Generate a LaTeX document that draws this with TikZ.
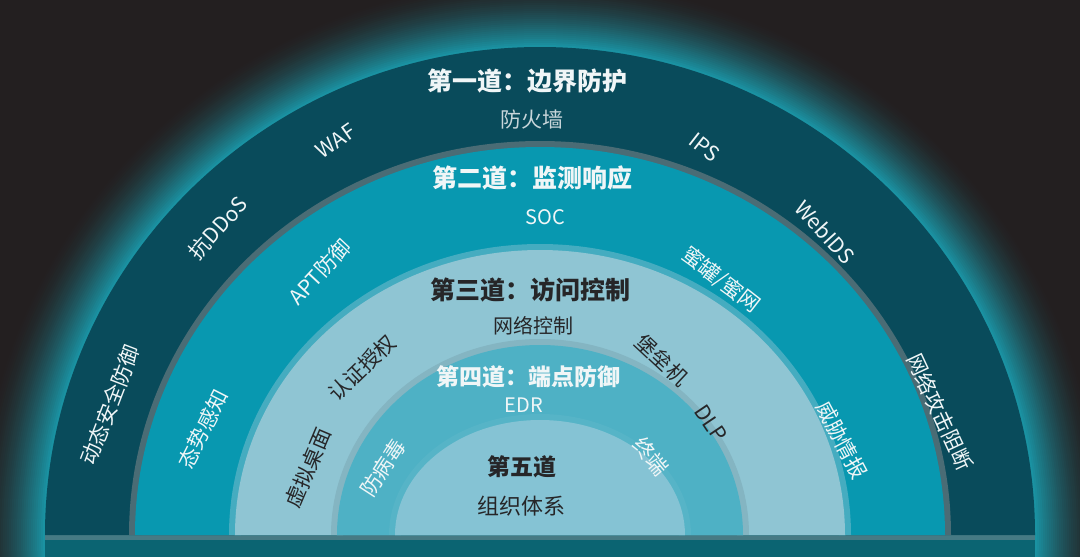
\documentclass[tikz,border=0pt]{standalone}
\usepackage{fontspec}
\setmainfont{Noto Sans CJK SC}
\usepackage{xcolor}
\usepackage{tikz}
\usetikzlibrary{positioning}
\definecolor{bgdark}{RGB}{35,31,32}
\definecolor{glowteal}{RGB}{26,146,162}
\definecolor{ringone}{RGB}{9,75,91}
\definecolor{ringtwo}{RGB}{8,152,176}
\definecolor{ringthree}{RGB}{143,197,211}
\definecolor{ringfour}{RGB}{78,177,197}
\definecolor{ringfive}{RGB}{133,195,212}
\definecolor{basestrip}{RGB}{11,100,114}
\definecolor{rimgray}{RGB}{74,108,117}
\definecolor{inkdark}{RGB}{38,38,40}
\definecolor{inklight}{RGB}{240,246,247}
\definecolor{inkgray}{RGB}{200,214,218}
\tikzset{
 rimshade/.style={draw=#1, line width=12pt},
 headline/.style={font=\fontsize{#1}{#1}\selectfont\bfseries, inner sep=0pt},
 subline/.style={font=\fontsize{#1}{#1}\selectfont, inner sep=0pt},
 arclabel/.style={font=\fontsize{21}{21}\selectfont, inner sep=0pt},
}

\begin{document}
\begin{tikzpicture}[x=1pt, y=-1pt]
\useasboundingbox (0,0) rectangle (1080,557);
\clip (0,0) rectangle (1080,557);
\fill[bgdark] (0,0) rectangle (1080,557);
% outer glow round the first ring
\foreach \k in {0,...,34}{
 \pgfmathtruncatemacro\mixpct{100*(\k/34)^1.6}
 \pgfmathsetmacro\rx{495+70-2*\k}
 \pgfmathsetmacro\ry{488+70-2*\k}
 \fill[glowteal!\mixpct!bgdark] (540,535) ellipse [x radius=\rx pt, y radius=\ry pt];
}
% base strip under the rings
\fill[basestrip] (45,535) rectangle (1035,557);
\fill[rimgray!80!white, opacity=.6] (45,535) rectangle (1035,540);
% five rings, outer to inner, each with a soft rim on the ring above
\foreach \rx/\ry/\col/\rim [count=\i] in {%
 495/488/ringone/ringone, 405/388/ringtwo/rimgray,
 305/285/ringthree/ringtwo!55!ringthree,
 203/190/ringfour/ringthree!92!black,
 145/115/ringfive/ringfour!85!ringfive%
}{
 \ifnum\i>1
  \draw[rimshade=\rim] (540-\rx,535) arc[start angle=180, end angle=0, x radius=\rx pt, y radius=\ry pt];
 \fi
 \fill[\col] (540-\rx,535) arc[start angle=180, end angle=0, x radius=\rx pt, y radius=\ry pt] -- cycle;
}
% ring titles and their subtitles
\node[headline=25, text=inklight] (title1) at (527,81) {第一道：边界防护};
\node[subline=21, text=inkgray] (sub1) at (532,120) {防火墙};
\node[headline=25, text=inklight] (title2) at (532,178) {第二道：监测响应};
\node[subline=20, text=inklight] (sub2) at (545,217) {SOC};
\node[headline=25, text=inkdark] (title3) at (530,290) {第三道：访问控制};
\node[subline=20, text=inkdark] (sub3) at (533,326) {网络控制};
\node[headline=23, text=inklight] (title4) at (528,377) {第四道：端点防御};
\node[subline=20, text=inklight] (sub4) at (524,405) {EDR};
\node[headline=23, text=inkdark] (title5) at (522,467) {第五道};
\node[subline=22, text=inkdark] (sub5) at (521,506) {组织体系};
% labels that follow the arcs
\foreach \txt/\px/\py/\ang/\ink [count=\i] in {%
 WAF/336/141/35/inklight, 抗DDoS/218/228/48/inklight,
 动态安全防御/110/405/69/inklight, IPS/705/147/-38/inklight,
 WebIDS/825/232/-48/inklight, 网络攻击阻断/940/412/-65/inklight,
 APT防御/320/272/47/inklight, 态势感知/203/429/63/inklight,
 {蜜罐/蜜网}/721/280/-38/inklight, 威胁情报/842/440/-62/inklight,
 认证授权/362/368/44/inkdark, 虚拟桌面/308/468/67/inkdark,
 堡垒机/662/360/-43/inkdark, DLP/711/423/-56/inkdark,
 防病毒/383/468/57/inklight, 终端/651/456/-50/inklight%
}{
 \node[arclabel, text=\ink, rotate=\ang] (arc\i) at (\px,\py) {\txt};
}
\end{tikzpicture}
\end{document}
